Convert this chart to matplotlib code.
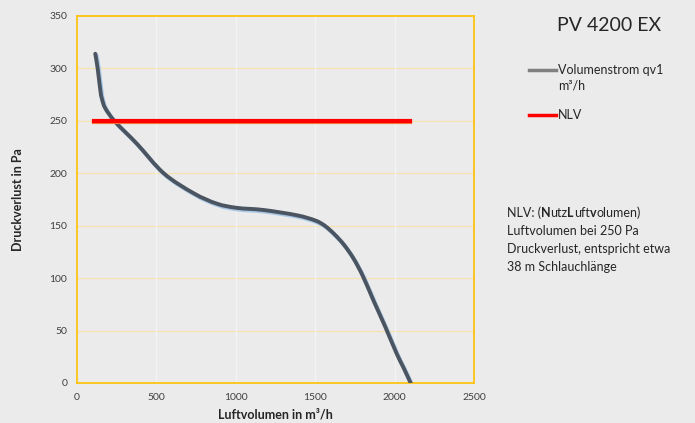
import numpy as np
import matplotlib.pyplot as plt
from matplotlib.path import Path
from matplotlib.patches import PathPatch

plt.rcParams['font.family'] = ['Lato', 'DejaVu Sans']

# curve
flow = [115, 130, 147, 157, 178, 241, 378, 546, 734, 881, 1008, 1173,
        1383, 1500, 1560, 1620, 1680, 1740, 1800, 1866, 1940, 2013, 2055,
        2101]
press = [314, 300, 279, 271, 262, 249, 228, 200, 181, 171, 167, 165,
         160, 155, 150, 142, 132, 119, 102, 79, 54, 28, 15, 0]
nlv_x = [105, 2100]
nlv_y = [250, 250]

xticks = [0, 500, 1000, 1500, 2000, 2500]
yticks = [0, 50, 100, 150, 200, 250, 300, 350]

note_title = [('NLV: (', 'normal'), ('N', 'bold'), ('utz', 'normal'),
              ('L', 'bold'), ('uft', 'normal'), ('v', 'bold'),
              ('olumen)', 'normal')]
note_lines = ['Luftvolumen bei 250 Pa', 'Druckverlust, entspricht etwa',
              '38 m Schlauchlänge']

bg = '#ebebeb'
gold = '#ffc000'
txt = '#262626'


def smooth_path(xs, ys, dx=0.0, dy=0.0):
    # Excel-like smoothed line: Catmull-Rom segments as cubic beziers
    p = np.column_stack([xs, ys]).astype(float) + [dx, dy]
    verts = [p[0]]
    codes = [Path.MOVETO]
    n = len(p)
    for i in range(n - 1):
        p0 = p[max(i - 1, 0)]
        p3 = p[min(i + 2, n - 1)]
        c1 = p[i] + (p[i + 1] - p0) / 6
        c2 = p[i + 1] - (p3 - p[i]) / 6
        verts += [c1, c2, p[i + 1]]
        codes += [Path.CURVE4] * 3
    return Path(verts, codes)


fig = plt.figure(figsize=(6.95, 4.23), dpi=100, facecolor=bg)
ax = fig.add_axes([0.1108, 0.0946, 0.5712, 0.8676], facecolor=bg)

ax.set_xlim(0, 2500)
ax.set_ylim(0, 350)
ax.set_xticks(xticks)
ax.set_yticks(yticks)
ax.tick_params(length=0, labelsize=7.5, colors='#404040', pad=7)

for y in yticks[1:-1]:
    ax.axhline(y, color='#f7e2b0', lw=0.9, zorder=0)
for x in xticks[1:-1]:
    ax.axvline(x, color='#f3f3f3', lw=0.9, zorder=0)
for s in ax.spines.values():
    s.set_color(gold)
    s.set_linewidth(1.2)

# shadows first
ax.add_patch(PathPatch(smooth_path(flow, press, 8, -1.5), fill=False,
                       edgecolor='#a9c8e6', lw=3, capstyle='round', zorder=2))
ax.add_patch(PathPatch(smooth_path(flow, press), fill=False,
                       edgecolor='#4b5561', lw=2.8, capstyle='round', zorder=3))
ax.plot(nlv_x, np.array(nlv_y) - 1.5, color='#f08040', lw=3, zorder=4)
ax.plot(nlv_x, nlv_y, color='#ff0000', lw=3, zorder=5)

ax.set_xlabel('Luftvolumen in m³/h', fontsize=9, fontweight='bold',
              color=txt)
ax.xaxis.set_label_coords(0.5, -0.087)
ax.xaxis.label.set_va('center')
ax.set_ylabel('Druckverlust in Pa', fontsize=9, fontweight='bold',
              color=txt)
ax.yaxis.set_label_coords(-0.149, 0.5)
ax.yaxis.label.set_va('center')

fig.text(0.802, 0.94, 'PV 4200 EX', fontsize=14, color=txt, va='center')

# legend drawn by hand
fig.add_artist(plt.Line2D([0.761, 0.800], [0.835, 0.835], color='#808080',
                          lw=2.5))
fig.text(0.803, 0.835, 'Volumenstrom qv1', fontsize=9, color=txt, va='center')
fig.text(0.803, 0.797, 'm³/h', fontsize=9, color=txt, va='center')
fig.add_artist(plt.Line2D([0.761, 0.800], [0.728, 0.728], color='#ff0000',
                          lw=2.5))
fig.text(0.803, 0.728, 'NLV', fontsize=9, color=txt, va='center')

# note, first line has some bold letters
anchor = fig.text(0.729, 0.487, note_title[0][0], fontsize=9, color=txt,
                  va='baseline')
for s, w in note_title[1:]:
    anchor = ax.annotate(s, xy=(1, 0), xycoords=anchor, fontsize=9,
                         color=txt, fontweight=w, va='bottom',
                         annotation_clip=False)
for i, line in enumerate(note_lines):
    fig.text(0.729, 0.487 - (i + 1) * 0.0426, line, fontsize=9, color=txt,
             va='baseline')

fig.savefig('out.png', dpi=100, facecolor=bg)
